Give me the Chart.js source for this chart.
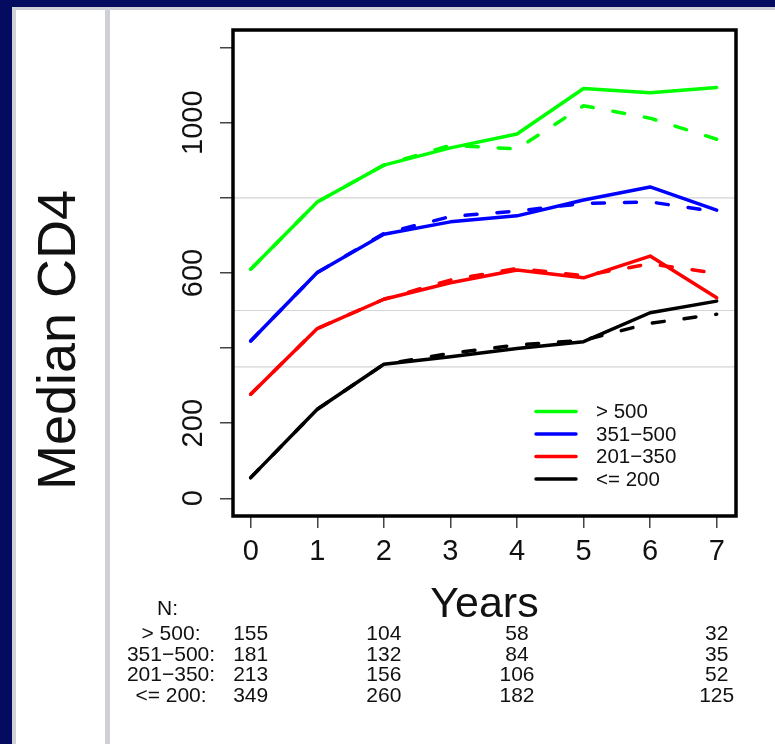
<!DOCTYPE html>
<html>
<head>
<meta charset="utf-8">
<script src="https://cdn.jsdelivr.net/npm/chart.js@4.4.1/dist/chart.umd.min.js"></script>
<style>
  html, body { margin: 0; padding: 0; background: #050b5e; }
  #wrap { position: relative; width: 775px; height: 744px; }
  canvas { display: block; }
</style>
</head>
<body>
<div id="wrap"><canvas id="c" width="775" height="744"></canvas></div>
<script>
// ---------- data ----------
const years = [0, 1, 2, 3, 4, 5, 6, 7];
const seriesNames = ['> 500', '351\u2212500', '201\u2212350', '<= 200'];
const seriesColors = ['#00ff00', '#0000ff', '#ff0000', '#000000'];

// solid lines (observed medians)
const solidGt500   = [610, 789, 887, 933, 970, 1091, 1080, 1094];
const solid351_500 = [419, 601, 703, 736, 752, 794, 829, 767];
const solid201_350 = [277, 452, 530, 574, 608, 587, 645, 534];
const solidLe200   = [55, 237, 357, 377, 399, 417, 494, 525];

// dashed lines
const dashGt500   = [610, 789, 887, 940, 930, 1045, 1012, 956];
const dash351_500 = [419, 601, 705, 750, 765, 785, 789, 763];
const dash201_350 = [277, 452, 530, 581, 612, 593, 624, 599];
const dashLe200   = [55, 237, 357, 386, 408, 421, 466, 490];

// axes
const xTickValues = [0, 1, 2, 3, 4, 5, 6, 7];
const yTickValues = [0, 200, 400, 600, 800, 1000, 1200];
const yLabelValues = [0, 200, 600, 1000];
const refLines = [350, 500, 800];

// numbers at risk table
const nTitle = 'N:';
const nYears = [0, 2, 4, 7];
const nRowLabels = ['> 500:', '351\u2212500:', '201\u2212350:', '<= 200:'];
const nGt500   = [155, 104, 58, 32];
const n351_500 = [181, 132, 84, 35];
const n201_350 = [213, 156, 106, 52];
const nLe200   = [349, 260, 182, 125];

const xTitle = 'Years';
const yTitle = 'Median CD4';

// ---------- build ----------
const FONT = "'Liberation Sans', Arial, Helvetica, sans-serif";
const solids = [solidGt500, solid351_500, solid201_350, solidLe200];
const dashes = [dashGt500, dash351_500, dash201_350, dashLe200];
const nRows = [nGt500, n351_500, n201_350, nLe200];

const toXY = arr => years.map((x, i) => ({ x: x, y: arr[i] }));
const datasets = [];
solids.forEach((arr, i) => {
  datasets.push({
    label: seriesNames[i], data: toXY(arr), borderColor: seriesColors[i],
    borderWidth: 3.5, pointRadius: 0, tension: 0, fill: false,
    borderCapStyle: 'round', borderJoinStyle: 'round', order: 2
  });
});
dashes.forEach((arr, i) => {
  datasets.push({
    label: seriesNames[i] + ' (dashed)', data: toXY(arr), borderColor: seriesColors[i],
    borderWidth: 3.5, pointRadius: 0, tension: 0, fill: false,
    borderDash: [12, 20], borderCapStyle: 'round', borderJoinStyle: 'round', order: 1
  });
});

const decor = {
  id: 'decor',
  beforeDraw(chart) {
    const ctx = chart.ctx;
    ctx.save();
    ctx.fillStyle = '#050b5e';
    ctx.fillRect(0, 0, 775, 744);
    ctx.fillStyle = '#cfd0d8';
    ctx.fillRect(12, 7, 763, 737);
    ctx.fillStyle = '#ffffff';
    ctx.fillRect(16, 10, 89, 734);
    ctx.fillRect(110, 10, 665, 734);
    ctx.restore();
  },
  beforeDatasetsDraw(chart) {
    const ctx = chart.ctx, a = chart.chartArea, ys = chart.scales.y;
    ctx.save();
    ctx.strokeStyle = '#d4d4d4';
    ctx.lineWidth = 1.2;
    refLines.forEach(v => {
      const py = ys.getPixelForValue(v);
      ctx.beginPath(); ctx.moveTo(a.left, py); ctx.lineTo(a.right, py); ctx.stroke();
    });
    ctx.restore();
  },
  afterDraw(chart) {
    const ctx = chart.ctx, a = chart.chartArea;
    const xs = chart.scales.x, ys = chart.scales.y;
    ctx.save();
    // box
    ctx.strokeStyle = '#000';
    ctx.lineWidth = 3.5;
    ctx.strokeRect(a.left, a.top, a.right - a.left, a.bottom - a.top);

    // y labels (rotated)
    ctx.fillStyle = '#111';
    ctx.font = '29px ' + FONT;
    ctx.textAlign = 'center';
    ctx.textBaseline = 'alphabetic';
    yLabelValues.forEach(v => {
      const py = ys.getPixelForValue(v);
      ctx.save();
      ctx.translate(201.5, py);
      ctx.rotate(-Math.PI / 2);
      ctx.fillText(String(v), 0, 0);
      ctx.restore();
    });

    // y title
    ctx.save();
    ctx.font = '54px ' + FONT;
    ctx.fillStyle = '#111';
    ctx.translate(75, 340);
    ctx.rotate(-Math.PI / 2);
    ctx.textAlign = 'center';
    ctx.fillText(yTitle, 0, 0);
    ctx.restore();

    // x title
    ctx.font = '43px ' + FONT;
    ctx.textAlign = 'center';
    ctx.fillText(xTitle, (a.left + a.right) / 2, 617);

    // legend
    const legY = [411.5, 434, 456.5, 479];
    ctx.font = '20.5px ' + FONT;
    ctx.textAlign = 'left';
    ctx.textBaseline = 'middle';
    seriesNames.forEach((name, i) => {
      ctx.strokeStyle = seriesColors[i];
      ctx.lineWidth = 3.5;
      ctx.lineCap = 'round';
      ctx.beginPath(); ctx.moveTo(536, legY[i]); ctx.lineTo(576, legY[i]); ctx.stroke();
      ctx.fillStyle = '#111';
      ctx.fillText(name, 596, legY[i] + 1);
    });

    // N table
    ctx.font = '21px ' + FONT;
    ctx.textBaseline = 'alphabetic';
    ctx.textAlign = 'center';
    ctx.fillStyle = '#111';
    ctx.fillText(nTitle, 167.5, 615);
    const rowY = [640, 661, 681, 701.5];
    nRowLabels.forEach((lab, r) => {
      ctx.textAlign = 'center';
      ctx.fillText(lab, 171, rowY[r]);
      nYears.forEach((yr, c) => {
        ctx.fillText(String(nRows[r][c]), xs.getPixelForValue(yr), rowY[r]);
      });
    });
    ctx.restore();
  }
};

new Chart(document.getElementById('c'), {
  type: 'line',
  data: { datasets: datasets },
  options: {
    responsive: false,
    animation: false,
    devicePixelRatio: 1,
    layout: { padding: { left: 0, top: 30, right: 39, bottom: 0 } },
    plugins: { legend: { display: false }, tooltip: { enabled: false }, title: { display: false } },
    scales: {
      x: {
        type: 'linear', min: -0.266, max: 7.29,
        afterBuildTicks: s => { s.ticks = xTickValues.map(v => ({ value: v })); },
        afterFit: s => { s.height = 228; },
        border: { display: false },
        grid: { drawOnChartArea: false, drawTicks: true, tickLength: 12, color: '#444', lineWidth: 1.5 },
        ticks: { autoSkip: false, maxRotation: 0, padding: 7, color: '#111',
                 font: { size: 29, family: FONT }, callback: v => String(v) }
      },
      y: {
        type: 'linear', min: -47.1, max: 1246.8,
        afterBuildTicks: s => { s.ticks = yTickValues.map(v => ({ value: v })); },
        afterFit: s => { s.width = 233; },
        border: { display: false },
        grid: { drawOnChartArea: false, drawTicks: true, tickLength: 13, color: '#444', lineWidth: 1.5 },
        ticks: { display: false }
      }
    }
  },
  plugins: [decor]
});
</script>
</body>
</html>
